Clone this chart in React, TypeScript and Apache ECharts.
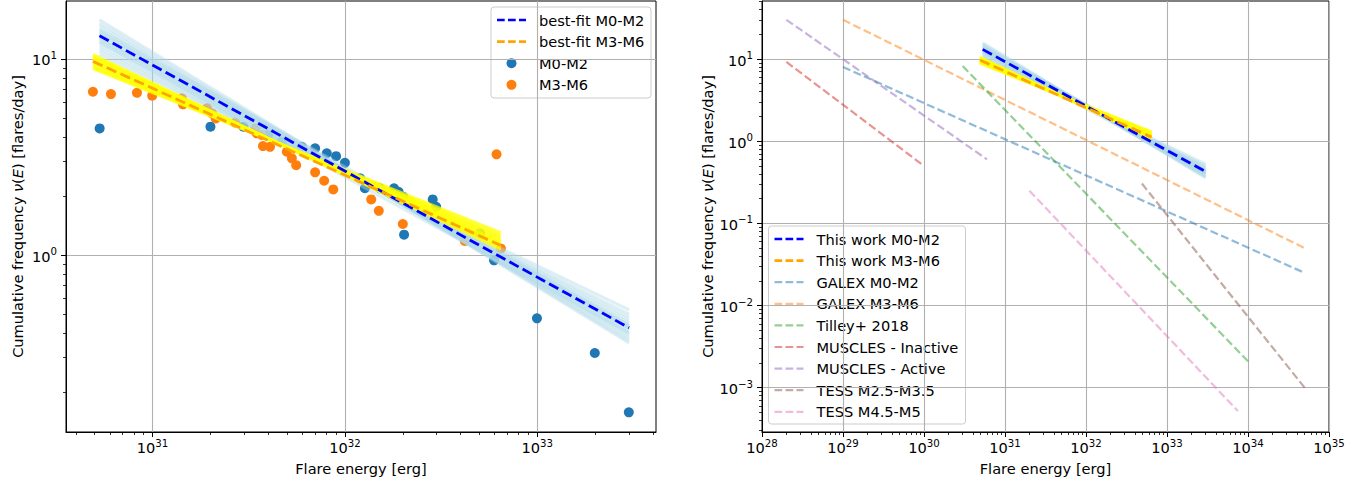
import React, { useEffect, useRef } from "react";
import * as echarts from "echarts";

// ---------------- data ----------------
// Left panel: observed cumulative flare frequencies
const m02Energy = [5.31e30, 2.0e31, 2.97e31, 3.99e31, 4.7e31, 5.97e31, 7.0e31, 8.05e31, 9.0e31, 1.0e32, 1.2e32, 1.27e32, 1.52e32, 1.8e32, 1.9e32, 2.01e32, 2.86e32, 2.98e32, 2.03e32, 5.04e32, 5.96e32, 9.96e32, 1.99e33, 2.99e33];
const m02Freq = [4.42, 4.51, 4.51, 4.09, 3.78, 3.56, 3.5, 3.3, 3.19, 2.95, 2.46, 2.19, 2.19, 2.19, 2.1, 1.98, 1.92, 1.76, 1.27, 1.29, 0.94, 0.476, 0.317, 0.158];
const m36Energy = [4.9e30, 6.08e30, 8.3e30, 9.96e30, 1.42e31, 1.44e31, 1.92e31, 2.04e31, 2.13e31, 2.69e31, 3.42e31, 3.48e31, 3.7e31, 3.75e31, 4.08e31, 4.99e31, 5.3e31, 5.58e31, 7.0e31, 7.8e31, 8.7e31, 1.37e32, 1.5e32, 2.0e32, 4.2e32, 6.47e32, 6.14e32];
const m36Freq = [6.79, 6.61, 6.71, 6.48, 6.29, 5.86, 5.59, 5.27, 4.97, 4.72, 4.42, 4.17, 4.09, 3.59, 3.56, 3.36, 3.11, 2.87, 2.64, 2.39, 2.16, 1.92, 1.68, 1.44, 1.18, 1.08, 3.26];

// Best fits (endpoints in energy and frequency)
const fitM02Energy = [5.3e30, 3.0e33];
const fitM02Freq = [13.1, 0.426];
const fitM36Energy = [4.9e30, 6.45e32];
const fitM36Freq = [9.7, 1.12];

// Posterior sample lines (start frequency, end frequency)
const fanM02Start = [15.8, 15.2, 14.7, 14.2, 13.7, 13.3, 12.9, 12.5, 12.1, 11.7, 11.3, 10.9, 10.5, 14.0, 12.2, 13.5, 12.7];
const fanM02End = [0.356, 0.366, 0.376, 0.388, 0.4, 0.412, 0.425, 0.438, 0.452, 0.466, 0.482, 0.5, 0.525, 0.44, 0.4, 0.43, 0.42];
const fanM36Start = [10.5, 10.3, 10.1, 9.9, 9.7, 9.5, 9.3, 9.1, 8.9];
const fanM36End = [1.07, 1.1, 1.13, 1.15, 1.17, 1.2, 1.23, 1.26, 1.3];

// Right panel: literature relations
const litNames = ["GALEX M0-M2", "GALEX M3-M6", "Tilley+ 2018", "MUSCLES - Inactive", "MUSCLES - Active", "TESS M2.5-M3.5", "TESS M4.5-M5"];
const litStartE = [1e29, 1e29, 3e30, 2e28, 2e28, 4.9e32, 2e31];
const litStartV = [8, 30, 8.2, 9.2, 30, 0.305, 0.25];
const litEndE = [5e34, 5e34, 1e34, 1e30, 6e30, 5e34, 7.5e33];
const litEndV = [0.025, 0.05, 0.0021, 0.5, 0.6, 0.001, 5.2e-4];
const litColors = ["#1f77b4", "#ff7f0e", "#2ca02c", "#d62728", "#9467bd", "#8c564b", "#e377c2"];

// Axis ranges
const leftX = [3.55e30, 4.14e33];
const leftY = [0.1254, 19.7];
const rightX = [1e28, 1e35];
const rightY = [2.89e-4, 50.8];

const FONT = "DejaVu Sans";
const FS = 14.6;

function majors(lo: number, hi: number) {
  const out: number[] = [];
  for (let e = Math.floor(Math.log10(lo)); e <= Math.ceil(Math.log10(hi)); e++) {
    const v = Math.pow(10, e);
    if (v >= lo && v <= hi) out.push(v);
  }
  return out;
}
function minors(lo: number, hi: number) {
  const out: number[] = [];
  for (let e = Math.floor(Math.log10(lo)); e <= Math.ceil(Math.log10(hi)); e++) {
    for (let m = 2; m <= 9; m++) {
      const v = m * Math.pow(10, e);
      if (v >= lo && v <= hi) out.push(v);
    }
  }
  return out;
}

const supFormatter = (v: number) => {
  const e = Math.round(Math.log10(v));
  return "{b|10}{s|" + (e < 0 ? "\u2212" + -e : String(e)) + "}";
};
const rich = {
  b: { fontSize: FS, fontFamily: FONT, color: "#000", lineHeight: 17, verticalAlign: "bottom" },
  s: { fontSize: 10.2, fontFamily: FONT, color: "#000", lineHeight: 12, padding: [0, 0, 7, 0], verticalAlign: "bottom" },
};

function xAxes(gridIndex: number, range: number[]) {
  return [
    {
      type: "log", logBase: 10, gridIndex, min: range[0], max: range[1], position: "bottom",
      axisLine: { show: true, onZero: false, lineStyle: { color: "#000", width: 1 } },
      axisTick: { show: true, customValues: majors(range[0], range[1]), length: 5, lineStyle: { color: "#000", width: 1 } },
      axisLabel: { show: true, customValues: majors(range[0], range[1]), formatter: supFormatter, rich, margin: 6 },
      splitLine: { show: true, lineStyle: { color: "#b0b0b0", width: 1.1 } },
      name: "Flare energy [erg]", nameLocation: "middle", nameGap: 28.5,
      nameTextStyle: { fontSize: FS, fontFamily: FONT, color: "#000" },
    },
    {
      type: "log", logBase: 10, gridIndex, min: range[0], max: range[1], position: "bottom",
      axisLine: { show: false },
      axisTick: { show: true, customValues: minors(range[0], range[1]), length: 3, lineStyle: { color: "#000", width: 0.8 } },
      axisLabel: { show: false },
      splitLine: { show: false },
    },
  ];
}
function yAxes(gridIndex: number, range: number[], nameGap: number) {
  return [
    {
      type: "log", logBase: 10, gridIndex, min: range[0], max: range[1], position: "left",
      axisLine: { show: true, onZero: false, lineStyle: { color: "#000", width: 1 } },
      axisTick: { show: true, customValues: majors(range[0], range[1]), length: 5, lineStyle: { color: "#000", width: 1 } },
      axisLabel: { show: true, customValues: majors(range[0], range[1]), formatter: supFormatter, rich, margin: 9 },
      splitLine: { show: true, lineStyle: { color: "#b0b0b0", width: 1.1 } },
      name: "Cumulative frequency {it|\u03bd}({it|E}) [flares/day]", nameLocation: "middle", nameGap, nameRotate: 90,
      nameTextStyle: {
        fontSize: FS, fontFamily: FONT, color: "#000",
        rich: { it: { fontStyle: "italic", fontSize: FS, fontFamily: FONT, color: "#000" } },
      },
    },
    {
      type: "log", logBase: 10, gridIndex, min: range[0], max: range[1], position: "left",
      axisLine: { show: false },
      axisTick: { show: true, customValues: minors(range[0], range[1]), length: 3, lineStyle: { color: "#000", width: 0.8 } },
      axisLabel: { show: false },
      splitLine: { show: false },
    },
  ];
}

function seg(e: number[], v: number[]) {
  return [[e[0], v[0]], [e[1], v[1]]];
}

function panelFitSeries(xi: number, yi: number) {
  const s: any[] = [];
  fanM02Start.forEach((v0, i) => {
    s.push({
      type: "line", xAxisIndex: xi, yAxisIndex: yi, z: 3, silent: true, symbol: "none",
      data: seg(fitM02Energy, [v0, fanM02End[i]]),
      lineStyle: { color: "#add8e6", width: 3, opacity: 0.42 },
    });
  });
  fanM36Start.forEach((v0, i) => {
    s.push({
      type: "line", xAxisIndex: xi, yAxisIndex: yi, z: 3, silent: true, symbol: "none",
      data: seg(fitM36Energy, [v0, fanM36End[i]]),
      lineStyle: { color: "#ffff00", width: 3, opacity: 0.75 },
    });
  });
  s.push({
    type: "line", xAxisIndex: xi, yAxisIndex: yi, z: 5, symbol: "none",
    data: seg(fitM02Energy, fitM02Freq),
    lineStyle: { color: "#0000ff", width: 2.8, type: [10.5, 4.6] },
  });
  s.push({
    type: "line", xAxisIndex: xi, yAxisIndex: yi, z: 5, symbol: "none",
    data: seg(fitM36Energy, fitM36Freq),
    lineStyle: { color: "#ffa500", width: 2.8, type: [10.5, 4.6] },
  });
  return s;
}

const leftLegend = [
  { kind: "line", color: "#0000ff", label: "best-fit M0-M2" },
  { kind: "line", color: "#ffa500", label: "best-fit M3-M6" },
  { kind: "dot", color: "#1f77b4", label: "M0-M2" },
  { kind: "dot", color: "#ff7f0e", label: "M3-M6" },
];
const rightLegend = [
  { kind: "line", color: "#0000ff", label: "This work M0-M2", opacity: 1 },
  { kind: "line", color: "#ffa500", label: "This work M3-M6", opacity: 1 },
  ...litNames.map((n, i) => ({ kind: "line", color: litColors[i], label: n, opacity: 0.5 })),
];

function legendGraphic(items: any[], box: { x: number; y: number; w: number; h: number }) {
  const children: any[] = [
    {
      type: "rect", shape: { x: box.x, y: box.y, width: box.w, height: box.h, r: 3 },
      style: { fill: "rgba(255,255,255,0.8)", stroke: "#cccccc", lineWidth: 1 },
    },
  ];
  items.forEach((it, k) => {
    const cy = box.y + 13 + k * 21.6;
    const x0 = box.x + 6;
    if (it.kind === "line") {
      children.push({
        type: "line", shape: { x1: x0, y1: cy, x2: x0 + 29, y2: cy },
        style: { stroke: it.color, lineWidth: it.opacity === 0.5 ? 2.2 : 2.7, lineDash: [7.7, 3.3], opacity: it.opacity ?? 1 },
      });
    } else {
      children.push({ type: "circle", shape: { cx: x0 + 14.5, cy, r: 5 }, style: { fill: it.color } });
    }
    children.push({
      type: "text", x: x0 + 42, y: cy,
      style: { text: it.label, fontSize: FS, fontFamily: FONT, fill: "#000", align: "left", verticalAlign: "middle" },
    });
  });
  return { type: "group", z: 100, children };
}

export default function App() {
  const ref = useRef<HTMLDivElement>(null);
  useEffect(() => {
    if (!ref.current) return;
    const chart = echarts.init(ref.current, null, { renderer: "svg" });
    const series: any[] = [];
    // left panel
    series.push({
      type: "scatter", name: "M0-M2", xAxisIndex: 0, yAxisIndex: 0, z: 2, symbolSize: 10,
      data: m02Energy.map((e, i) => [e, m02Freq[i]]), itemStyle: { color: "#1f77b4", opacity: 1 },
    });
    series.push({
      type: "scatter", name: "M3-M6", xAxisIndex: 0, yAxisIndex: 0, z: 2, symbolSize: 10,
      data: m36Energy.map((e, i) => [e, m36Freq[i]]), itemStyle: { color: "#ff7f0e", opacity: 1 },
    });
    series.push(...panelFitSeries(0, 0));
    // right panel
    litNames.forEach((n, i) => {
      series.push({
        type: "line", name: n, xAxisIndex: 2, yAxisIndex: 2, z: 4, symbol: "none",
        data: [[litStartE[i], litStartV[i]], [litEndE[i], litEndV[i]]],
        lineStyle: { color: litColors[i], width: 2.2, type: [8, 3.5], opacity: 0.5 },
      });
    });
    series.push(...panelFitSeries(2, 2));

    chart.setOption({
      animation: false,
      textStyle: { fontFamily: FONT },
      grid: [
        { left: 66, top: 1, width: 590, height: 431, show: true, borderColor: "#000", borderWidth: 1 },
        { left: 762, top: 1, width: 567, height: 431, show: true, borderColor: "#000", borderWidth: 1 },
      ],
      xAxis: [...xAxes(0, leftX), ...xAxes(1, rightX)],
      yAxis: [...yAxes(0, leftY, 41), ...yAxes(1, rightY, 47)],
      series,
      graphic: [
        legendGraphic(leftLegend, { x: 491, y: 7, w: 160, h: 91 }),
        legendGraphic(rightLegend, { x: 768.5, y: 226, w: 197, h: 198 }),
      ],
    });
    return () => chart.dispose();
  }, []);
  return <div ref={ref} style={{ position: "absolute", left: 0, top: 0, width: 1369, height: 482 }} />;
}
